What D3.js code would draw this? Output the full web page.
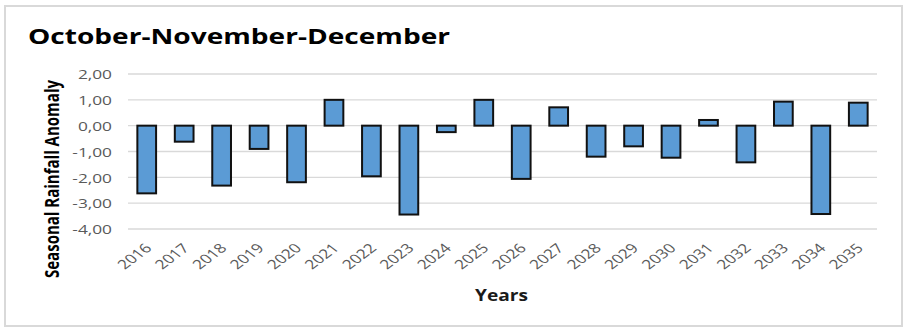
<!DOCTYPE html>
<html><head><meta charset="utf-8">
<script src="https://cdn.jsdelivr.net/npm/d3@7"></script>
<style>body{margin:0;background:#fff;}svg{display:block;}</style>
</head><body>
<script>
const years = ["2016","2017","2018","2019","2020","2021","2022","2023","2024","2025","2026","2027","2028","2029","2030","2031","2032","2033","2034","2035"];
const anomaly = [-2.62,-0.62,-2.32,-0.9,-2.19,1.0,-1.96,-3.44,-0.25,1.0,-2.06,0.71,-1.2,-0.8,-1.24,0.22,-1.42,0.93,-3.42,0.89];
const yTicks = [2,1,0,-1,-2,-3,-4];
const title = "October-November-December";
const yTitle = "Seasonal Rainfall Anomaly";
const xTitle = "Years";

const W = 905, H = 328;
const m = {left:128, right:28, top:74, bottom:99};
const SX = 1.33; // horizontal stretch of text as in the reference
const svg = d3.select("body").append("svg").attr("width",W).attr("height",H);
svg.append("rect").attr("x",5).attr("y",6).attr("width",897).attr("height",320)
  .attr("fill","#fff").attr("stroke","#d9d9d9").attr("stroke-width",2);

const x = d3.scaleBand().domain(years).range([m.left, W-m.right]).paddingInner(0.5).paddingOuter(0.25);
const y = d3.scaleLinear().domain([-4,2]).range([H-m.bottom, m.top]);

const fmt = v => v.toFixed(2).replace(".", ",");

// gridlines
svg.append("g").selectAll("line").data(yTicks).join("line")
  .attr("x1",m.left).attr("x2",W-m.right)
  .attr("y1",d=>y(d)).attr("y2",d=>y(d))
  .attr("stroke","#d9d9d9").attr("stroke-width",1.3);

// y axis labels
const yAxis = d3.axisLeft(y).tickValues(yTicks).tickFormat(fmt).tickSize(0).tickPadding(0);
const gy = svg.append("g").attr("transform",`translate(${m.left},0)`).call(yAxis);
gy.select(".domain").remove();
gy.selectAll(".tick text").attr("x",null).attr("dy","0.36em")
  .attr("transform",`translate(-16,0) scale(${SX},1)`)
  .attr("fill","#595959").style("font-family","Open Sans, sans-serif").style("font-size","13px");

// bars
svg.append("g").selectAll("rect").data(anomaly).join("rect")
  .attr("x",(d,i)=>x(years[i]))
  .attr("width",x.bandwidth())
  .attr("y",d=>Math.min(y(d),y(0)))
  .attr("height",d=>Math.abs(y(d)-y(0)))
  .attr("fill","#5b9bd5").attr("stroke","#111").attr("stroke-width",2);

// x labels
const xAxis = d3.axisBottom(x).tickSize(0).tickPadding(0);
const gx = svg.append("g").attr("transform",`translate(0,${y(-4)})`).call(xAxis);
gx.select(".domain").remove();
gx.selectAll("text")
  .attr("text-anchor","end")
  .attr("y",0).attr("dy","0")
  .attr("transform",`translate(6,20) scale(${SX},1) rotate(-45)`)
  .attr("fill","#595959").style("font-family","Open Sans, sans-serif").style("font-size","13px");

// titles
svg.append("text").attr("x",28).attr("y",44).text(title)
  .attr("textLength",422).attr("lengthAdjust","spacingAndGlyphs")
  .style("font-family","Open Sans, sans-serif").style("font-weight","bold").style("font-size","22px").attr("fill","#000");
svg.append("text").attr("x",475).attr("y",301).text(xTitle)
  .attr("textLength",53).attr("lengthAdjust","spacingAndGlyphs")
  .style("font-family","Open Sans, sans-serif").style("font-weight","bold").style("font-size","16px").attr("fill","#1a1a1a");
svg.append("text").attr("transform",`translate(59,179) scale(${SX},1) rotate(-90)`).attr("text-anchor","middle").text(yTitle)
  .attr("textLength",198).attr("lengthAdjust","spacingAndGlyphs")
  .style("font-family","Open Sans, sans-serif").style("font-weight","bold").style("font-size","14.5px").attr("fill","#000");
</script>
</body></html>
